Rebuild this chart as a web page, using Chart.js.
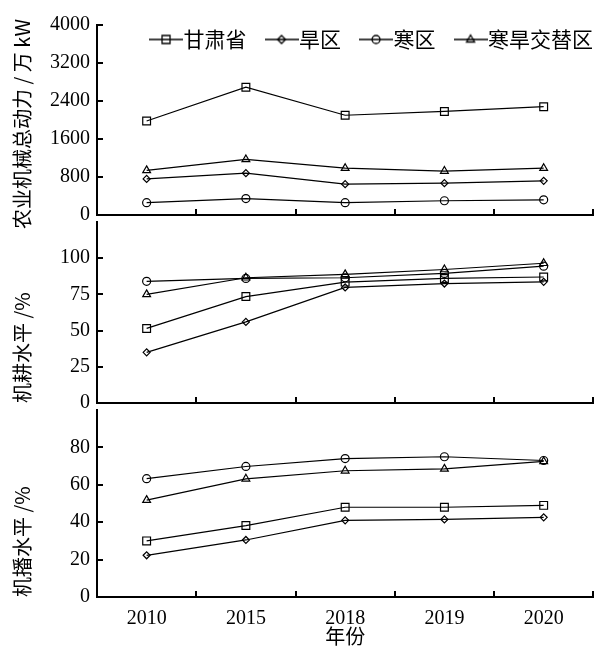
<!DOCTYPE html>
<html>
<head>
<meta charset="utf-8">
<script src="https://cdn.jsdelivr.net/npm/chart.js@4.4.1/dist/chart.umd.min.js"></script>
<style>
  body { margin: 0; background: #fff; }
  #wrap { position: relative; width: 600px; height: 649px; }
  canvas { position: absolute; left: 0; }
</style>
</head>
<body>
<div id="wrap">
  <canvas id="powerChart" width="600" height="240" style="top:0px"></canvas>
  <canvas id="plowChart" width="600" height="231" style="top:197px"></canvas>
  <canvas id="sowChart" width="600" height="264" style="top:385px"></canvas>
</div>
<script>
const years = ['2010', '2015', '2018', '2019', '2020'];
const seriesNames = ['甘肃省', '旱区', '寒区', '寒旱交替区'];

// 农业机械总动力 / 万 kW
const powerGansu = [1980, 2690, 2100, 2180, 2280];
const powerDry = [760, 880, 650, 670, 720];
const powerCold = [260, 345, 260, 300, 320];
const powerAlt = [940, 1170, 985, 925, 985];

// 机耕水平 /%
const plowGansu = [51.5, 73.5, 83.5, 86, 87];
const plowDry = [35, 56, 79.8, 82.5, 83.7];
const plowCold = [84, 86, 86.5, 89.5, 94.5];
const plowAlt = [75, 86.5, 88.8, 92.2, 96.5];

// 机播水平 /%
const sowGansu = [30, 38.2, 48, 48, 49];
const sowDry = [22.3, 30.5, 41, 41.5, 42.6];
const sowCold = [63.3, 69.8, 74, 75, 73];
const sowAlt = [51.8, 63.2, 67.5, 68.5, 72.5];

const markers = ['rect', 'rectRot', 'circle', 'triangle'];
const markerRadius = [5.5, 3.5, 4, 4.5];

const tickFont = { family: "'Liberation Serif', 'Times New Roman', serif", size: 20 };
const titleFont = { family: "'Noto Sans CJK SC', sans-serif", size: 20 };

function makeDatasets(seriesValues) {
    return seriesValues.map((values, i) => ({
        label: seriesNames[i],
        data: values,
        borderColor: '#000',
        borderWidth: 1.2,
        tension: 0,
        pointStyle: markers[i],
        pointRadius: markerRadius[i],
        pointHoverRadius: markerRadius[i],
        pointBorderColor: '#000',
        pointBackgroundColor: 'rgba(0,0,0,0)',
        pointBorderWidth: 1.2
    }));
}

function yAxis(max, step, topTick, title) {
    return {
        min: 0,
        max: max,
        afterFit: scale => { scale.width = 97; },
        afterBuildTicks: scale => { scale.ticks = scale.ticks.filter(t => t.value <= topTick); },
        ticks: { stepSize: step, padding: 13, color: '#000', font: tickFont, callback: v => String(v) },
        grid: { drawOnChartArea: false, tickLength: -6, color: '#000', lineWidth: 2 },
        border: { color: '#000', width: 2 },
        title: {
            display: !!title,
            text: title,
            align: 'start',
            color: '#000',
            font: titleFont,
            padding: { top: 10 }
        }
    };
}

function xAxis(showLabels) {
    return {
        type: 'category',
        offset: true,
        afterFit: scale => { scale.height = showLabels ? 52 : 19; },
        ticks: { display: showLabels, padding: 16, color: '#000', font: tickFont, maxRotation: 0, autoSkip: false },
        grid: { offset: true, drawOnChartArea: false, tickLength: -6, color: '#000', lineWidth: 2 },
        border: { color: '#000', width: 2 },
        title: { display: showLabels, text: '年份', color: '#000', font: titleFont, padding: { top: 0, bottom: 1 } }
    };
}

// little line + marker pictures for the legend
function legendIcon(style) {
    const c = document.createElement('canvas');
    c.width = 34;
    c.height = 14;
    const ctx = c.getContext('2d');
    ctx.strokeStyle = '#000';
    ctx.lineWidth = 1.3;
    ctx.beginPath();
    ctx.moveTo(0, 7);
    ctx.lineTo(34, 7);
    ctx.stroke();
    ctx.beginPath();
    if (style === 'rect') {
        ctx.rect(13, 3, 8, 8);
    } else if (style === 'rectRot') {
        ctx.moveTo(17, 3); ctx.lineTo(21, 7); ctx.lineTo(17, 11); ctx.lineTo(13, 7); ctx.closePath();
    } else if (style === 'circle') {
        ctx.arc(17, 7, 4, 0, Math.PI * 2);
    } else {
        ctx.moveTo(17, 2.5); ctx.lineTo(21, 9.5); ctx.lineTo(13, 9.5); ctx.closePath();
    }
    ctx.fillStyle = '#fff';
    ctx.fill();
    ctx.moveTo(13, 7);
    ctx.lineTo(21, 7);
    ctx.stroke();
    return c;
}
const legendIcons = markers.map(legendIcon);

// keep the legend on the plot area instead of taking a row above it
const legendInside = {
    id: 'legendInside',
    afterInit(chart) {
        const legend = chart.legend;
        const fit = legend.fit;
        legend.fit = function () {
            fit.call(this);
            this.height = 24;
        };
    },
    afterLayout(chart) {
        // widen the box again so the items are not clipped
        chart.legend.right += 23;
        chart.legend.bottom = 60;
    }
};

const powerTitle = {
    id: 'powerTitle',
    afterDraw(chart) {
        const ctx = chart.ctx;
        const area = chart.chartArea;
        ctx.save();
        ctx.translate(22, (area.top + area.bottom) / 2 + 4);
        ctx.rotate(-Math.PI / 2);
        ctx.font = "20px 'Noto Sans CJK SC'";
        ctx.fillStyle = '#000';
        ctx.textAlign = 'center';
        ctx.textBaseline = 'middle';
        ctx.fillText('农业机械总动力 / 万 kW', 0, 0);
        ctx.restore();
    }
};

const baseOptions = {
    responsive: false,
    animation: false,
    devicePixelRatio: 1,
    events: []
};

new Chart(document.getElementById('powerChart'), {
    type: 'line',
    data: { labels: years, datasets: makeDatasets([powerGansu, powerDry, powerCold, powerAlt]) },
    options: Object.assign({}, baseOptions, {
        layout: { padding: { top: 0, right: 2, left: 0, bottom: 0 } },
        plugins: {
            legend: {
                display: true,
                position: 'top',
                align: 'end',
                labels: {
                    usePointStyle: true,
                    pointStyleWidth: 14,
                    padding: 28,
                    color: '#000',
                    font: { family: "'Noto Sans CJK SC', sans-serif", size: 21 },
                    generateLabels: chart => Chart.defaults.plugins.legend.labels.generateLabels(chart)
                        .map((item, i) => Object.assign(item, { pointStyle: legendIcons[i] }))
                }
            },
            tooltip: { enabled: false }
        },
        scales: { x: xAxis(false), y: yAxis(4000, 800, 4000, '') }
    }),
    plugins: [legendInside, powerTitle]
});

new Chart(document.getElementById('plowChart'), {
    type: 'line',
    data: { labels: years, datasets: makeDatasets([plowGansu, plowDry, plowCold, plowAlt]) },
    options: Object.assign({}, baseOptions, {
        layout: { padding: { top: 24, right: 2, left: 0, bottom: 0 } },
        plugins: { legend: { display: false }, tooltip: { enabled: false } },
        scales: { x: xAxis(false), y: yAxis(125, 25, 100, '机耕水平 /%') }
    })
});

new Chart(document.getElementById('sowChart'), {
    type: 'line',
    data: { labels: years, datasets: makeDatasets([sowGansu, sowDry, sowCold, sowAlt]) },
    options: Object.assign({}, baseOptions, {
        layout: { padding: { top: 24, right: 2, left: 0, bottom: 0 } },
        plugins: { legend: { display: false }, tooltip: { enabled: false } },
        scales: { x: xAxis(true), y: yAxis(100, 20, 80, '机播水平 /%') }
    })
});
</script>
</body>
</html>
